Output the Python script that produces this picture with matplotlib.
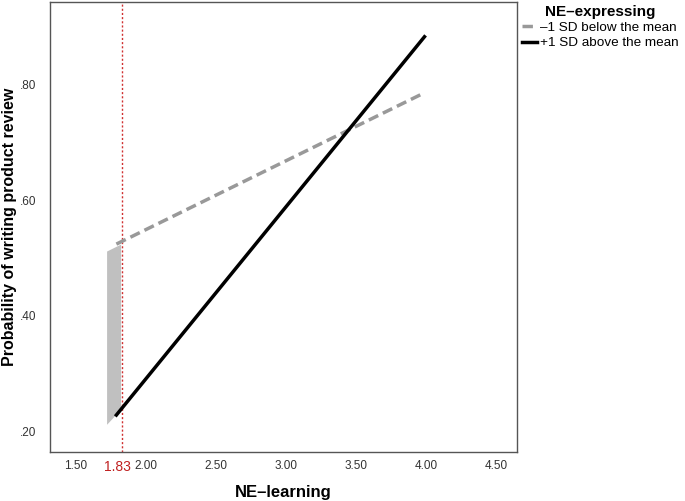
import matplotlib.pyplot as plt
import matplotlib.transforms as mtransforms

plt.rcParams['font.family'] = ['Liberation Sans', 'DejaVu Sans']

# fitted lines (NE-learning vs probability)
x_line = [1.79, 3.99]
low_sd = [0.524, 0.786]   # -1 SD below the mean
high_sd = [0.228, 0.883]  # +1 SD above the mean

# shaded region left of the Johnson-Neyman point
band_x = [1.72, 1.82]
band_top = [0.512, 0.524]
band_bottom = [0.212, 0.238]

jn_point = 1.83
x_ticks = [1.50, 2.00, 2.50, 3.00, 3.50, 4.00, 4.50]
y_ticks = [0.20, 0.40, 0.60, 0.80]


def plot_chart():
    fig = plt.figure(figsize=(6.85, 5.01), dpi=100)
    ax = fig.add_axes([0.073, 0.0978, 0.6818, 0.898])

    ax.fill_between(band_x, band_bottom, band_top, color="#c0c0c0", linewidth=0)
    ax.axvline(jn_point, color="#d03030", linestyle=(0, (1.5, 1.5)), linewidth=1)
    ax.plot(x_line, low_sd, color="#999999", linestyle=(0, (3, 1.5)), linewidth=2.5,
            label="\u20131 SD below the mean")
    ax.plot(x_line, high_sd, color="black", linewidth=2.5, label="+1 SD above the mean")

    ax.set_xlim(1.316, 4.651)
    ax.set_ylim(0.164, 0.943)
    ax.set_xticks(x_ticks + [jn_point])
    ax.set_xticklabels(["%.2f" % t for t in x_ticks] + ["1.83"])
    ax.set_yticks(y_ticks)
    ax.set_yticklabels([(".%02d" % round(t * 100)) for t in y_ticks])
    ax.tick_params(length=0, labelsize=8.5, colors="#333333")
    ax.tick_params(axis="x", pad=6)
    ax.tick_params(axis="y", pad=10)
    for s in ax.spines.values():
        s.set_color("#555555")
        s.set_linewidth(1)

    # red label for the J-N point, nudged left so it clears 2.00
    jn_lab = ax.get_xticklabels()[-1]
    jn_lab.set_color("#c02020")
    jn_lab.set_fontsize(10)
    shift = mtransforms.ScaledTranslation(-5 / 100, 0, fig.dpi_scale_trans)
    jn_lab.set_transform(jn_lab.get_transform() + shift)

    ax.set_xlabel("NE\u2013learning", fontsize=12, fontweight="bold", labelpad=8)
    ax.set_ylabel("Probability of writing product review", fontsize=11.5,
                  fontweight="bold")
    ax.yaxis.set_label_coords(-0.071, 0.5)

    leg = fig.legend(loc="upper left", bbox_to_anchor=(0.756, 0.998),
                     title="NE\u2013expressing", frameon=False, fontsize=9.7,
                     handlelength=1.1, handletextpad=0.25, labelspacing=0.2,
                     borderaxespad=0, borderpad=0.3)
    leg.get_title().set_fontweight("bold")
    leg.get_title().set_fontsize(11)

    fig.savefig("out.png", dpi=100)


if __name__ == "__main__":
    plot_chart()
